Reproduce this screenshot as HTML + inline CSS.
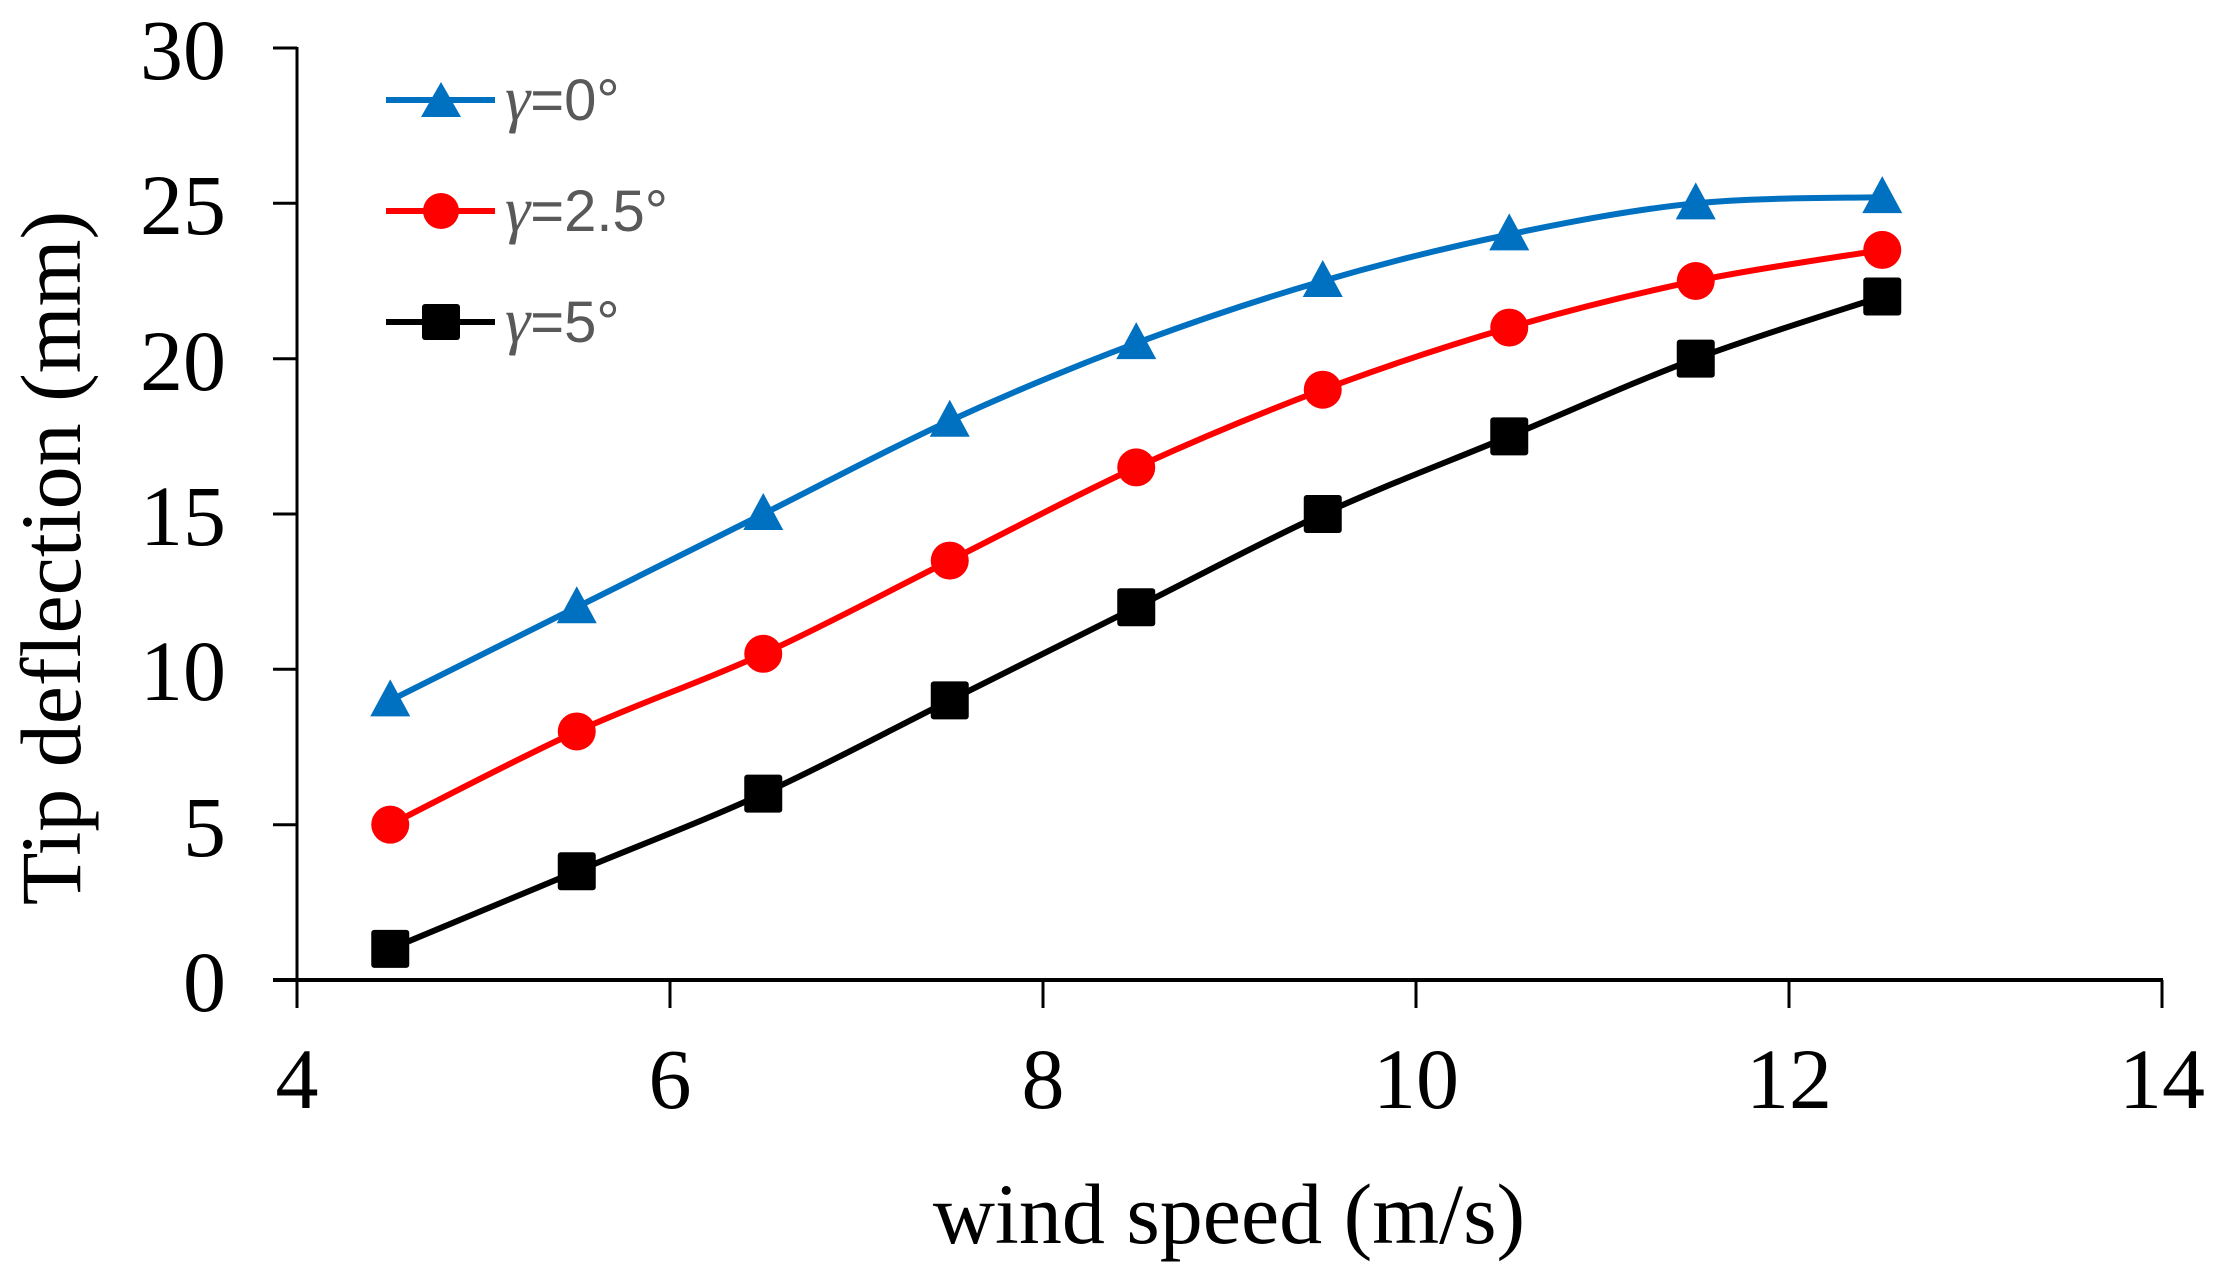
<!DOCTYPE html>
<html><head><meta charset="utf-8"><style>
html,body{margin:0;padding:0;background:#fff}
svg{display:block}
</style></head><body>
<svg id="c" width="2215" height="1274" xmlns="http://www.w3.org/2000/svg">
<g stroke="#000" stroke-width="3" fill="none">
<line x1="297" y1="47" x2="297" y2="981"/>
<line x1="273" y1="980" x2="2163" y2="980" stroke-width="4"/>
<line x1="273" y1="48" x2="297" y2="48"/>
<line x1="273" y1="203.3" x2="297" y2="203.3"/>
<line x1="273" y1="358.7" x2="297" y2="358.7"/>
<line x1="273" y1="514" x2="297" y2="514"/>
<line x1="273" y1="669.3" x2="297" y2="669.3"/>
<line x1="273" y1="824.7" x2="297" y2="824.7"/>
<line x1="297" y1="980" x2="297" y2="1008"/>
<line x1="670" y1="980" x2="670" y2="1008"/>
<line x1="1043" y1="980" x2="1043" y2="1008"/>
<line x1="1416" y1="980" x2="1416" y2="1008"/>
<line x1="1789" y1="980" x2="1789" y2="1008"/>
<line x1="2162" y1="980" x2="2162" y2="1008"/>
</g>
<g font-family="Liberation Serif, serif" font-size="86" fill="#000" text-anchor="end">
<text x="226" y="79">30</text>
<text x="226" y="234">25</text>
<text x="226" y="390">20</text>
<text x="226" y="545">15</text>
<text x="226" y="700">10</text>
<text x="226" y="856">5</text>
<text x="226" y="1011">0</text>
</g>
<g font-family="Liberation Serif, serif" font-size="86" fill="#000" text-anchor="middle">
<text x="297" y="1108">4</text>
<text x="670" y="1108">6</text>
<text x="1043" y="1108">8</text>
<text x="1416" y="1108">10</text>
<text x="1789" y="1108">12</text>
<text x="2162" y="1108">14</text>
<text x="1229" y="1243" font-size="86">wind speed (m/s)</text>
<text transform="translate(80,558) rotate(-90)" font-size="86">Tip deflection (mm)</text>
</g>
<g id="series"></g>
<g font-family="Liberation Sans, sans-serif" font-size="58" fill="#595959">
<line x1="386" y1="100" x2="495" y2="100" stroke="#0070C0" stroke-width="6"/>
<polygon points="441,82 461,117 421,117" fill="#0070C0"/>
<text x="505" y="120"><tspan font-family="Liberation Serif, serif" font-style="italic" font-size="64">γ</tspan>=0°</text>
<line x1="386" y1="211" x2="495" y2="211" stroke="#FF0000" stroke-width="6"/>
<circle cx="441" cy="211" r="18" fill="#FF0000"/>
<text x="505" y="231"><tspan font-family="Liberation Serif, serif" font-style="italic" font-size="64">γ</tspan>=2.5°</text>
<line x1="386" y1="322" x2="495" y2="322" stroke="#000" stroke-width="6"/>
<rect x="422" y="304" width="38" height="36" rx="3" fill="#000"/>
<text x="505" y="342"><tspan font-family="Liberation Serif, serif" font-style="italic" font-size="64">γ</tspan>=5°</text>
</g>
</svg>
<script>
(function(){
var NS="http://www.w3.org/2000/svg";
var g=document.getElementById("series");
function X(v){return 297+(v-4)*186.5;}
function Y(v){return 980-v*31.067;}
var xs=[4.5,5.5,6.5,7.5,8.5,9.5,10.5,11.5,12.5];
var S=[
 {c:"#0070C0",m:"t",d:[9,12,15,18,20.5,22.5,24,25,25.2]},
 {c:"#FF0000",m:"c",d:[5,8,10.5,13.5,16.5,19,21,22.5,23.5]},
 {c:"#000000",m:"s",d:[1,3.5,6,9,12,15,17.5,20,22]}
];
S.forEach(function(s){
 var p=xs.map(function(x,i){return [X(x),Y(s.d[i])];});
 var d="M"+p[0][0]+","+p[0][1];
 for(var i=0;i<p.length-1;i++){
  var p0=p[i-1]||p[i],p1=p[i],p2=p[i+1],p3=p[i+2]||p[i+1];
  var t=1/6;
  d+=" C"+(p1[0]+(p2[0]-p0[0])*t)+","+(p1[1]+(p2[1]-p0[1])*t)+" "+(p2[0]-(p3[0]-p1[0])*t)+","+(p2[1]-(p3[1]-p1[1])*t)+" "+p2[0]+","+p2[1];
 }
 var path=document.createElementNS(NS,"path");
 path.setAttribute("d",d);path.setAttribute("stroke",s.c);path.setAttribute("stroke-width","6");path.setAttribute("fill","none");
 g.appendChild(path);
 p.forEach(function(q){
  var e;
  if(s.m=="c"){e=document.createElementNS(NS,"circle");e.setAttribute("cx",q[0]);e.setAttribute("cy",q[1]);e.setAttribute("r",19);}
  else if(s.m=="s"){e=document.createElementNS(NS,"rect");e.setAttribute("x",q[0]-19);e.setAttribute("y",q[1]-19);e.setAttribute("width",38);e.setAttribute("height",38);e.setAttribute("rx",3);}
  else{e=document.createElementNS(NS,"polygon");e.setAttribute("points",q[0]+","+(q[1]-21)+" "+(q[0]+20)+","+(q[1]+16)+" "+(q[0]-20)+","+(q[1]+16));}
  e.setAttribute("fill",s.c);g.appendChild(e);
 });
});
})();
</script>
</body></html>
